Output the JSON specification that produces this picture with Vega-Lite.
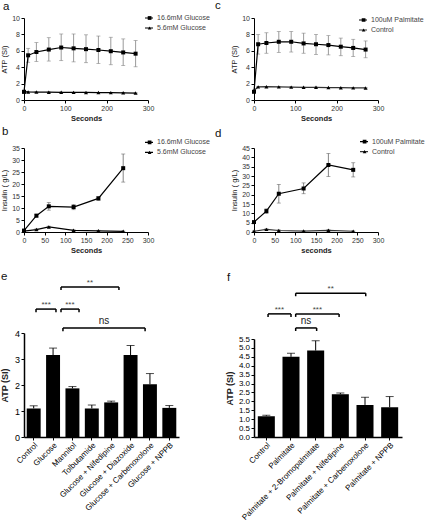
{
  "$schema": "https://vega.github.io/schema/vega-lite/v6.json",
  "padding": {"left": 0, "top": 0, "right": 0, "bottom": 0},
  "bounds": "flush",
  "columns": 2,
  "spacing": {"row": 48, "column": 75},
  "resolve": {"scale": {"shape": "independent", "color": "independent"}, "legend": {"shape": "independent", "color": "independent"}},
  "datasets": {
    "a": [
      {"s": "16.6mM  Glucose", "t": 0, "v": 1.0, "lo": 1.0, "hi": 1.0},
      {"s": "16.6mM  Glucose", "t": 10, "v": 5.45, "lo": 4.6, "hi": 6.3},
      {"s": "16.6mM  Glucose", "t": 30, "v": 5.85, "lo": 4.7, "hi": 7.0},
      {"s": "16.6mM  Glucose", "t": 60, "v": 6.15, "lo": 4.75, "hi": 7.6},
      {"s": "16.6mM  Glucose", "t": 90, "v": 6.4, "lo": 4.8, "hi": 8.05},
      {"s": "16.6mM  Glucose", "t": 120, "v": 6.3, "lo": 4.65, "hi": 8.05},
      {"s": "16.6mM  Glucose", "t": 150, "v": 6.2, "lo": 4.55, "hi": 7.95},
      {"s": "16.6mM  Glucose", "t": 180, "v": 6.1, "lo": 4.45, "hi": 7.8},
      {"s": "16.6mM  Glucose", "t": 210, "v": 5.95, "lo": 4.3, "hi": 7.65},
      {"s": "16.6mM  Glucose", "t": 240, "v": 5.8, "lo": 4.2, "hi": 7.45},
      {"s": "16.6mM  Glucose", "t": 270, "v": 5.65, "lo": 4.05, "hi": 7.25},
      {"s": "5.6mM Glucose", "t": 0, "v": 1.0, "lo": 1.0, "hi": 1.0},
      {"s": "5.6mM Glucose", "t": 10, "v": 0.98, "lo": 0.98, "hi": 0.98},
      {"s": "5.6mM Glucose", "t": 30, "v": 0.97, "lo": 0.97, "hi": 0.97},
      {"s": "5.6mM Glucose", "t": 60, "v": 0.95, "lo": 0.95, "hi": 0.95},
      {"s": "5.6mM Glucose", "t": 90, "v": 0.94, "lo": 0.94, "hi": 0.94},
      {"s": "5.6mM Glucose", "t": 120, "v": 0.93, "lo": 0.93, "hi": 0.93},
      {"s": "5.6mM Glucose", "t": 150, "v": 0.92, "lo": 0.92, "hi": 0.92},
      {"s": "5.6mM Glucose", "t": 180, "v": 0.91, "lo": 0.91, "hi": 0.91},
      {"s": "5.6mM Glucose", "t": 210, "v": 0.9, "lo": 0.9, "hi": 0.9},
      {"s": "5.6mM Glucose", "t": 240, "v": 0.88, "lo": 0.88, "hi": 0.88},
      {"s": "5.6mM Glucose", "t": 270, "v": 0.85, "lo": 0.85, "hi": 0.85}
    ],
    "c": [
      {"s": "100uM Palmitate", "t": 0, "v": 1.0, "lo": 1.0, "hi": 1.0},
      {"s": "100uM Palmitate", "t": 10, "v": 6.8, "lo": 5.6, "hi": 8.0},
      {"s": "100uM Palmitate", "t": 30, "v": 6.95, "lo": 5.7, "hi": 8.2},
      {"s": "100uM Palmitate", "t": 60, "v": 7.1, "lo": 5.8, "hi": 8.35},
      {"s": "100uM Palmitate", "t": 90, "v": 7.1, "lo": 5.85, "hi": 8.35},
      {"s": "100uM Palmitate", "t": 120, "v": 6.9, "lo": 5.7, "hi": 8.15},
      {"s": "100uM Palmitate", "t": 150, "v": 6.8, "lo": 5.55, "hi": 8.0},
      {"s": "100uM Palmitate", "t": 180, "v": 6.7, "lo": 5.5, "hi": 7.85},
      {"s": "100uM Palmitate", "t": 210, "v": 6.5, "lo": 5.4, "hi": 7.55},
      {"s": "100uM Palmitate", "t": 240, "v": 6.35, "lo": 5.3, "hi": 7.4},
      {"s": "100uM Palmitate", "t": 270, "v": 6.15, "lo": 5.15, "hi": 7.2},
      {"s": "Control", "t": 0, "v": 1.15, "lo": 1.15, "hi": 1.15},
      {"s": "Control", "t": 10, "v": 1.6, "lo": 1.6, "hi": 1.6},
      {"s": "Control", "t": 30, "v": 1.62, "lo": 1.62, "hi": 1.62},
      {"s": "Control", "t": 60, "v": 1.6, "lo": 1.6, "hi": 1.6},
      {"s": "Control", "t": 90, "v": 1.57, "lo": 1.57, "hi": 1.57},
      {"s": "Control", "t": 120, "v": 1.55, "lo": 1.55, "hi": 1.55},
      {"s": "Control", "t": 150, "v": 1.55, "lo": 1.55, "hi": 1.55},
      {"s": "Control", "t": 180, "v": 1.52, "lo": 1.52, "hi": 1.52},
      {"s": "Control", "t": 210, "v": 1.5, "lo": 1.5, "hi": 1.5},
      {"s": "Control", "t": 240, "v": 1.48, "lo": 1.48, "hi": 1.48},
      {"s": "Control", "t": 270, "v": 1.47, "lo": 1.47, "hi": 1.47}
    ],
    "b": [
      {"s": "16.6mM  Glucose", "t": 0, "v": 0.6, "lo": 0.3, "hi": 0.9},
      {"s": "16.6mM  Glucose", "t": 30, "v": 6.8, "lo": 6.2, "hi": 7.4},
      {"s": "16.6mM  Glucose", "t": 60, "v": 10.7, "lo": 9.1, "hi": 12.3},
      {"s": "16.6mM  Glucose", "t": 120, "v": 10.4, "lo": 9.3, "hi": 11.5},
      {"s": "16.6mM  Glucose", "t": 180, "v": 14.0, "lo": 13.2, "hi": 14.8},
      {"s": "16.6mM  Glucose", "t": 240, "v": 26.6, "lo": 20.8, "hi": 32.5},
      {"s": "5.6mM Glucose", "t": 0, "v": 0.4, "lo": 0.2, "hi": 0.6},
      {"s": "5.6mM Glucose", "t": 30, "v": 1.0, "lo": 0.7, "hi": 1.3},
      {"s": "5.6mM Glucose", "t": 60, "v": 2.1, "lo": 1.8, "hi": 2.4},
      {"s": "5.6mM Glucose", "t": 120, "v": 0.7, "lo": 0.5, "hi": 0.9},
      {"s": "5.6mM Glucose", "t": 180, "v": 0.5, "lo": 0.3, "hi": 0.7},
      {"s": "5.6mM Glucose", "t": 240, "v": 0.3, "lo": 0.2, "hi": 0.4}
    ],
    "d": [
      {"s": "100uM Palmitate", "t": 0, "v": 5.3, "lo": 4.8, "hi": 5.8},
      {"s": "100uM Palmitate", "t": 30, "v": 11.2, "lo": 10.0, "hi": 12.4},
      {"s": "100uM Palmitate", "t": 60, "v": 20.5, "lo": 15.5, "hi": 25.5},
      {"s": "100uM Palmitate", "t": 120, "v": 23.3, "lo": 20.5, "hi": 26.3},
      {"s": "100uM Palmitate", "t": 180, "v": 35.9, "lo": 29.7, "hi": 42.1},
      {"s": "100uM Palmitate", "t": 240, "v": 33.3, "lo": 29.5, "hi": 37.1},
      {"s": "Control", "t": 0, "v": 0.4, "lo": 0.2, "hi": 0.6},
      {"s": "Control", "t": 30, "v": 1.4, "lo": 1.1, "hi": 1.7},
      {"s": "Control", "t": 60, "v": 0.8, "lo": 0.5, "hi": 1.1},
      {"s": "Control", "t": 120, "v": 0.5, "lo": 0.3, "hi": 0.7},
      {"s": "Control", "t": 180, "v": 0.9, "lo": 0.6, "hi": 1.2},
      {"s": "Control", "t": 240, "v": 0.4, "lo": 0.2, "hi": 0.6}
    ],
    "e": [
      {"c": "Control", "v": 1.1, "hi": 1.2},
      {"c": "Glucose", "v": 3.15, "hi": 3.42},
      {"c": "Mannitol", "v": 1.87, "hi": 1.94},
      {"c": "Tolbutamide", "v": 1.1, "hi": 1.23},
      {"c": "Glucose + Nifedipine", "v": 1.33, "hi": 1.38},
      {"c": "Glucose + Diazoxide", "v": 3.15, "hi": 3.52},
      {"c": "Glucose + Carbenoxolone", "v": 2.03, "hi": 2.44},
      {"c": "Glucose + NPPB", "v": 1.12, "hi": 1.21}
    ],
    "f": [
      {"c": "Control", "v": 1.17, "hi": 1.22},
      {"c": "Palmitate", "v": 4.5, "hi": 4.7},
      {"c": "Palmitate + 2-Bromopalmitate", "v": 4.85, "hi": 5.4},
      {"c": "Palmitate + Nifedipine", "v": 2.4, "hi": 2.47},
      {"c": "Palmitate + Carbenoxolone", "v": 1.8, "hi": 2.23},
      {"c": "Palmitate + NPPB", "v": 1.67, "hi": 2.27}
    ],
    "eBr": [
      {"x1": 0.62, "x2": 1.65, "xm": 1.14, "lev": 4.92, "low": 4.8, "lab": "***"},
      {"x1": 1.91, "x2": 2.84, "xm": 2.37, "lev": 4.92, "low": 4.8, "lab": "***"},
      {"x1": 1.91, "x2": 4.9, "xm": 3.4, "lev": 5.77, "low": 5.65, "lab": "**"},
      {"x1": 2.01, "x2": 6.25, "xm": 4.13, "lev": 4.19, "low": 4.07, "lab": "ns"}
    ],
    "fBr": [
      {"x1": 0.57, "x2": 1.5, "xm": 1.03, "lev": 6.91, "low": 6.74, "lab": "***"},
      {"x1": 1.69, "x2": 2.54, "xm": 2.11, "lev": 6.12, "low": 5.95, "lab": "ns"},
      {"x1": 1.69, "x2": 3.45, "xm": 2.57, "lev": 6.91, "low": 6.74, "lab": "***"},
      {"x1": 1.69, "x2": 4.53, "xm": 3.11, "lev": 8.07, "low": 7.9, "lab": "**"}
    ]
  },
  "concat": [
    {
      "title": {"text": "a", "dx": -21, "offset": 0.7},
      "width": 124, "height": 82,
      "data": {"name": "a"},
      "layer": [
        {"mark": {"type": "rule", "color": "#808080", "strokeWidth": 0.8},
         "encoding": {
           "x": {"field": "t", "type": "quantitative", "title": "Seconds", "scale": {"domain": [0, 300], "nice": false}, "axis": {"values": [0, 100, 200, 300], "tickCount": 50, "format": "d"}},
           "y": {"field": "lo", "type": "quantitative", "title": "ATP (SI)", "scale": {"domain": [0, 10], "nice": false}, "axis": {"values": [0, 2, 4, 6, 8, 10], "tickCount": 50, "format": "d"}},
           "y2": {"field": "hi"}}},
        {"mark": {"type": "tick", "orient": "horizontal", "color": "#808080", "size": 4, "thickness": 0.8},
         "encoding": {"x": {"field": "t", "type": "quantitative", "title": "Seconds"}, "y": {"field": "hi", "type": "quantitative", "title": "ATP (SI)"}}},
        {"mark": {"type": "tick", "orient": "horizontal", "color": "#808080", "size": 4, "thickness": 0.8},
         "encoding": {"x": {"field": "t", "type": "quantitative", "title": "Seconds"}, "y": {"field": "lo", "type": "quantitative", "title": "ATP (SI)"}}},
        {"mark": {"type": "line", "strokeWidth": 1.2},
         "encoding": {"x": {"field": "t", "type": "quantitative", "title": "Seconds"}, "y": {"field": "v", "type": "quantitative", "title": "ATP (SI)"},
           "color": {"field": "s", "type": "nominal", "scale": {"domain": ["16.6mM  Glucose", "5.6mM Glucose"], "range": ["black", "black"]},
             "legend": {"orient": "none", "legendX": 120, "legendY": -5, "title": null, "symbolType": "stroke", "symbolSize": 64, "symbolStrokeWidth": 1.2}}}},
        {"mark": {"type": "point", "filled": true, "color": "black", "size": 16, "opacity": 1},
         "encoding": {"x": {"field": "t", "type": "quantitative", "title": "Seconds"}, "y": {"field": "v", "type": "quantitative", "title": "ATP (SI)"},
           "shape": {"field": "s", "type": "nominal", "scale": {"range": ["square", "triangle-up"]},
             "legend": {"orient": "none", "legendX": 122.1, "legendY": -5, "title": null, "symbolSize": 14, "symbolStrokeWidth": 0, "labelOpacity": 0}}}}
      ]
    },
    {
      "title": {"text": "c", "dx": -39, "offset": 2.2},
      "width": 124, "height": 82,
      "data": {"name": "c"},
      "layer": [
        {"mark": {"type": "rule", "color": "#808080", "strokeWidth": 0.8},
         "encoding": {
           "x": {"field": "t", "type": "quantitative", "title": "Seconds", "scale": {"domain": [0, 300], "nice": false}, "axis": {"values": [0, 100, 200, 300], "tickCount": 50, "format": "d"}},
           "y": {"field": "lo", "type": "quantitative", "title": "ATP (SI)", "scale": {"domain": [0, 10], "nice": false}, "axis": {"values": [0, 2, 4, 6, 8, 10], "tickCount": 50, "format": "d"}},
           "y2": {"field": "hi"}}},
        {"mark": {"type": "tick", "orient": "horizontal", "color": "#808080", "size": 4, "thickness": 0.8},
         "encoding": {"x": {"field": "t", "type": "quantitative", "title": "Seconds"}, "y": {"field": "hi", "type": "quantitative", "title": "ATP (SI)"}}},
        {"mark": {"type": "tick", "orient": "horizontal", "color": "#808080", "size": 4, "thickness": 0.8},
         "encoding": {"x": {"field": "t", "type": "quantitative", "title": "Seconds"}, "y": {"field": "lo", "type": "quantitative", "title": "ATP (SI)"}}},
        {"mark": {"type": "line", "strokeWidth": 1.2},
         "encoding": {"x": {"field": "t", "type": "quantitative", "title": "Seconds"}, "y": {"field": "v", "type": "quantitative", "title": "ATP (SI)"},
           "color": {"field": "s", "type": "nominal", "scale": {"domain": ["100uM Palmitate", "Control"], "range": ["black", "#333"]},
             "legend": {"orient": "none", "legendX": 104, "legendY": -3, "title": null, "symbolType": "stroke", "symbolSize": 64, "symbolStrokeWidth": 1.2}}}},
        {"mark": {"type": "point", "filled": true, "color": "black", "size": 16, "opacity": 1},
         "encoding": {"x": {"field": "t", "type": "quantitative", "title": "Seconds"}, "y": {"field": "v", "type": "quantitative", "title": "ATP (SI)"},
           "shape": {"field": "s", "type": "nominal", "scale": {"range": ["square", "triangle-up"]},
             "legend": {"orient": "none", "legendX": 106.1, "legendY": -3, "title": null, "symbolSize": 14, "symbolStrokeWidth": 0, "labelOpacity": 0}}}}
      ]
    },
    {
      "title": {"text": "b", "dx": -22, "offset": 0},
      "width": 124, "height": 84,
      "data": {"name": "b"},
      "layer": [
        {"mark": {"type": "rule", "color": "#666", "strokeWidth": 0.8},
         "encoding": {
           "x": {"field": "t", "type": "quantitative", "title": "Seconds", "scale": {"domain": [0, 300], "nice": false}, "axis": {"values": [0, 50, 100, 150, 200, 250, 300], "tickCount": 50, "format": "d"}},
           "y": {"field": "lo", "type": "quantitative", "title": "Insulin (  g/L)", "scale": {"domain": [0, 35], "nice": false}, "axis": {"values": [0, 5, 10, 15, 20, 25, 30, 35], "tickCount": 50, "format": "d"}},
           "y2": {"field": "hi"}}},
        {"mark": {"type": "tick", "orient": "horizontal", "color": "#666", "size": 4, "thickness": 0.8},
         "encoding": {"x": {"field": "t", "type": "quantitative", "title": "Seconds"}, "y": {"field": "hi", "type": "quantitative", "title": "Insulin (  g/L)"}}},
        {"mark": {"type": "tick", "orient": "horizontal", "color": "#666", "size": 4, "thickness": 0.8},
         "encoding": {"x": {"field": "t", "type": "quantitative", "title": "Seconds"}, "y": {"field": "lo", "type": "quantitative", "title": "Insulin (  g/L)"}}},
        {"mark": {"type": "line", "strokeWidth": 1.2},
         "encoding": {"x": {"field": "t", "type": "quantitative", "title": "Seconds"}, "y": {"field": "v", "type": "quantitative", "title": "Insulin (  g/L)"},
           "color": {"field": "s", "type": "nominal", "scale": {"domain": ["16.6mM  Glucose", "5.6mM Glucose"], "range": ["black", "black"]},
             "legend": {"orient": "none", "legendX": 120, "legendY": -10.7, "title": null, "symbolType": "stroke", "symbolSize": 64, "symbolStrokeWidth": 1.2}}}},
        {"mark": {"type": "point", "filled": true, "color": "black", "size": 16, "opacity": 1},
         "encoding": {"x": {"field": "t", "type": "quantitative", "title": "Seconds"}, "y": {"field": "v", "type": "quantitative", "title": "Insulin (  g/L)"},
           "shape": {"field": "s", "type": "nominal", "scale": {"range": ["square", "triangle-up"]},
             "legend": {"orient": "none", "legendX": 122.1, "legendY": -10.7, "title": null, "symbolSize": 14, "symbolStrokeWidth": 0, "labelOpacity": 0}}}}
      ]
    },
    {
      "title": {"text": "d", "dx": -39, "offset": -2.3},
      "width": 124, "height": 84,
      "data": {"name": "d"},
      "layer": [
        {"mark": {"type": "rule", "color": "#666", "strokeWidth": 0.8},
         "encoding": {
           "x": {"field": "t", "type": "quantitative", "title": "seconds", "scale": {"domain": [0, 300], "nice": false}, "axis": {"values": [0, 50, 100, 150, 200, 250, 300], "tickCount": 50, "format": "d"}},
           "y": {"field": "lo", "type": "quantitative", "title": "Insulin (  g/L)", "scale": {"domain": [0, 45], "nice": false}, "axis": {"values": [0, 5, 10, 15, 20, 25, 30, 35, 40, 45], "tickCount": 50, "format": "d"}},
           "y2": {"field": "hi"}}},
        {"mark": {"type": "tick", "orient": "horizontal", "color": "#666", "size": 4, "thickness": 0.8},
         "encoding": {"x": {"field": "t", "type": "quantitative", "title": "seconds"}, "y": {"field": "hi", "type": "quantitative", "title": "Insulin (  g/L)"}}},
        {"mark": {"type": "tick", "orient": "horizontal", "color": "#666", "size": 4, "thickness": 0.8},
         "encoding": {"x": {"field": "t", "type": "quantitative", "title": "seconds"}, "y": {"field": "lo", "type": "quantitative", "title": "Insulin (  g/L)"}}},
        {"mark": {"type": "line", "strokeWidth": 1.2},
         "encoding": {"x": {"field": "t", "type": "quantitative", "title": "seconds"}, "y": {"field": "v", "type": "quantitative", "title": "Insulin (  g/L)"},
           "color": {"field": "s", "type": "nominal", "scale": {"domain": ["100uM Palmitate", "Control"], "range": ["black", "#333"]},
             "legend": {"orient": "none", "legendX": 105, "legendY": -11.3, "title": null, "symbolType": "stroke", "symbolSize": 64, "symbolStrokeWidth": 1.2}}}},
        {"mark": {"type": "point", "filled": true, "color": "black", "size": 16, "opacity": 1},
         "encoding": {"x": {"field": "t", "type": "quantitative", "title": "seconds"}, "y": {"field": "v", "type": "quantitative", "title": "Insulin (  g/L)"},
           "shape": {"field": "s", "type": "nominal", "scale": {"range": ["square", "triangle-up"]},
             "legend": {"orient": "none", "legendX": 107.1, "legendY": -11.3, "title": null, "symbolSize": 14, "symbolStrokeWidth": 0, "labelOpacity": 0}}}}
      ]
    },
    {
      "title": {"text": "e", "dx": -23, "offset": -4},
      "width": 155, "height": 157,
      "resolve": {"scale": {"x": "independent"}},
      "layer": [
        {
          "data": {"name": "e"},
          "encoding": {"x": {"field": "c", "type": "nominal", "sort": null, "title": null, "scale": {"paddingInner": 0.28, "paddingOuter": 0.14},
            "axis": {"labelAngle": -45, "labelFontSize": 8, "labelColor": "#000", "domainWidth": 1.5, "labelPadding": 1}}},
          "layer": [
            {"mark": {"type": "bar", "color": "black"},
             "encoding": {"y": {"field": "v", "type": "quantitative", "title": "ATP (SI)", "scale": {"domain": [0, 4], "range": [157, 53], "nice": false},
               "axis": {"values": [0, 1, 2, 3, 4], "tickCount": 50, "format": "d", "labelFontSize": 9, "labelColor": "#000", "titleFontSize": 9, "titleFontWeight": "bold", "domainWidth": 1.5, "titlePadding": 5}}}},
            {"mark": {"type": "rule", "color": "black", "strokeWidth": 1},
             "encoding": {"y": {"field": "v", "type": "quantitative", "title": "ATP (SI)"}, "y2": {"field": "hi"}}},
            {"mark": {"type": "tick", "color": "black", "thickness": 1, "size": 8},
             "encoding": {"y": {"field": "hi", "type": "quantitative", "title": "ATP (SI)"}}}
          ]
        },
        {
          "data": {"name": "eBr"},
          "layer": [
            {"mark": {"type": "rule", "color": "black", "strokeWidth": 1.5},
             "encoding": {"x": {"field": "x1", "type": "quantitative", "scale": {"domain": [0, 8], "nice": false}, "axis": null}, "x2": {"field": "x2"},
               "y": {"field": "lev", "type": "quantitative", "title": "ATP (SI)", "scale": {"domain": [0, 4], "range": [157, 53], "nice": false}}}},
            {"mark": {"type": "rule", "color": "black", "strokeWidth": 1.5},
             "encoding": {"x": {"field": "x1", "type": "quantitative", "scale": {"domain": [0, 8], "nice": false}, "axis": null},
               "y": {"field": "lev", "type": "quantitative", "title": "ATP (SI)", "scale": {"domain": [0, 4], "range": [157, 53], "nice": false}}, "y2": {"field": "low"}}},
            {"mark": {"type": "rule", "color": "black", "strokeWidth": 1.5},
             "encoding": {"x": {"field": "x2", "type": "quantitative", "scale": {"domain": [0, 8], "nice": false}, "axis": null},
               "y": {"field": "lev", "type": "quantitative", "title": "ATP (SI)", "scale": {"domain": [0, 4], "range": [157, 53], "nice": false}}, "y2": {"field": "low"}}},
            {"transform": [{"filter": "datum.lab != 'ns'"}],
             "mark": {"type": "text", "fontSize": 8, "color": "#444", "baseline": "alphabetic", "dy": -2},
             "encoding": {"x": {"field": "xm", "type": "quantitative", "scale": {"domain": [0, 8], "nice": false}, "axis": null},
               "y": {"field": "lev", "type": "quantitative", "title": "ATP (SI)", "scale": {"domain": [0, 4], "range": [157, 53], "nice": false}}, "text": {"field": "lab"}}},
            {"transform": [{"filter": "datum.lab == 'ns'"}],
             "mark": {"type": "text", "fontSize": 10, "color": "#222", "baseline": "alphabetic", "dy": -4},
             "encoding": {"x": {"field": "xm", "type": "quantitative", "scale": {"domain": [0, 8], "nice": false}, "axis": null},
               "y": {"field": "lev", "type": "quantitative", "title": "ATP (SI)", "scale": {"domain": [0, 4], "range": [157, 53], "nice": false}}, "text": {"field": "lab"}}}
          ]
        }
      ]
    },
    {
      "title": {"text": "f", "dx": -27, "offset": -3.8},
      "width": 148, "height": 157,
      "resolve": {"scale": {"x": "independent"}},
      "layer": [
        {
          "data": {"name": "f"},
          "encoding": {"x": {"field": "c", "type": "nominal", "sort": null, "title": null, "scale": {"paddingInner": 0.31, "paddingOuter": 0.155},
            "axis": {"labelAngle": -45, "labelFontSize": 8, "labelColor": "#000", "domainWidth": 1.5, "labelPadding": 1}}},
          "layer": [
            {"mark": {"type": "bar", "color": "black"},
             "encoding": {"y": {"field": "v", "type": "quantitative", "title": "ATP (SI)", "scale": {"domain": [0, 5.5], "range": [157, 59], "nice": false},
               "axis": {"values": [0, 0.5, 1, 1.5, 2, 2.5, 3, 3.5, 4, 4.5, 5, 5.5], "tickCount": 50, "format": ".1f", "labelFontSize": 8, "labelColor": "#000", "titleFontSize": 9, "titleFontWeight": "bold", "domainWidth": 1.5, "titlePadding": 4}}}},
            {"mark": {"type": "rule", "color": "black", "strokeWidth": 1},
             "encoding": {"y": {"field": "v", "type": "quantitative", "title": "ATP (SI)"}, "y2": {"field": "hi"}}},
            {"mark": {"type": "tick", "color": "black", "thickness": 1, "size": 8},
             "encoding": {"y": {"field": "hi", "type": "quantitative", "title": "ATP (SI)"}}}
          ]
        },
        {
          "data": {"name": "fBr"},
          "layer": [
            {"mark": {"type": "rule", "color": "black", "strokeWidth": 1.5},
             "encoding": {"x": {"field": "x1", "type": "quantitative", "scale": {"domain": [0, 6], "nice": false}, "axis": null}, "x2": {"field": "x2"},
               "y": {"field": "lev", "type": "quantitative", "title": "ATP (SI)", "scale": {"domain": [0, 5.5], "range": [157, 59], "nice": false}}}},
            {"mark": {"type": "rule", "color": "black", "strokeWidth": 1.5},
             "encoding": {"x": {"field": "x1", "type": "quantitative", "scale": {"domain": [0, 6], "nice": false}, "axis": null},
               "y": {"field": "lev", "type": "quantitative", "title": "ATP (SI)", "scale": {"domain": [0, 5.5], "range": [157, 59], "nice": false}}, "y2": {"field": "low"}}},
            {"mark": {"type": "rule", "color": "black", "strokeWidth": 1.5},
             "encoding": {"x": {"field": "x2", "type": "quantitative", "scale": {"domain": [0, 6], "nice": false}, "axis": null},
               "y": {"field": "lev", "type": "quantitative", "title": "ATP (SI)", "scale": {"domain": [0, 5.5], "range": [157, 59], "nice": false}}, "y2": {"field": "low"}}},
            {"transform": [{"filter": "datum.lab != 'ns'"}],
             "mark": {"type": "text", "fontSize": 8, "color": "#444", "baseline": "alphabetic", "dy": -2},
             "encoding": {"x": {"field": "xm", "type": "quantitative", "scale": {"domain": [0, 6], "nice": false}, "axis": null},
               "y": {"field": "lev", "type": "quantitative", "title": "ATP (SI)", "scale": {"domain": [0, 5.5], "range": [157, 59], "nice": false}}, "text": {"field": "lab"}}},
            {"transform": [{"filter": "datum.lab == 'ns'"}],
             "mark": {"type": "text", "fontSize": 10, "color": "#222", "baseline": "alphabetic", "dy": -4},
             "encoding": {"x": {"field": "xm", "type": "quantitative", "scale": {"domain": [0, 6], "nice": false}, "axis": null},
               "y": {"field": "lev", "type": "quantitative", "title": "ATP (SI)", "scale": {"domain": [0, 5.5], "range": [157, 59], "nice": false}}, "text": {"field": "lab"}}}
          ]
        }
      ]
    }
  ],
  "config": {
    "view": {"stroke": null},
    "font": "Liberation Sans",
    "axis": {"grid": false, "domainColor": "#000", "tickColor": "#000", "domainWidth": 1, "tickWidth": 1, "tickSize": 3,
      "labelFontSize": 7, "labelColor": "#333", "labelPadding": 1.5, "labelFlush": false, "labelOverlap": false,
      "titleFontSize": 7.5, "titleFontWeight": "normal", "titleColor": "#222", "titlePadding": 3},
    "axisX": {"titleFontWeight": "bold"},
    "title": {"anchor": "start", "frame": "group", "fontSize": 11.5, "fontWeight": "normal", "color": "#111", "baseline": "alphabetic"},
    "legend": {"labelFontSize": 7, "labelColor": "#444", "labelOffset": 3, "rowPadding": 0, "clipHeight": 10, "padding": 0, "symbolStrokeColor": "black", "symbolFillColor": "black", "symbolOpacity": 1}
  }
}
